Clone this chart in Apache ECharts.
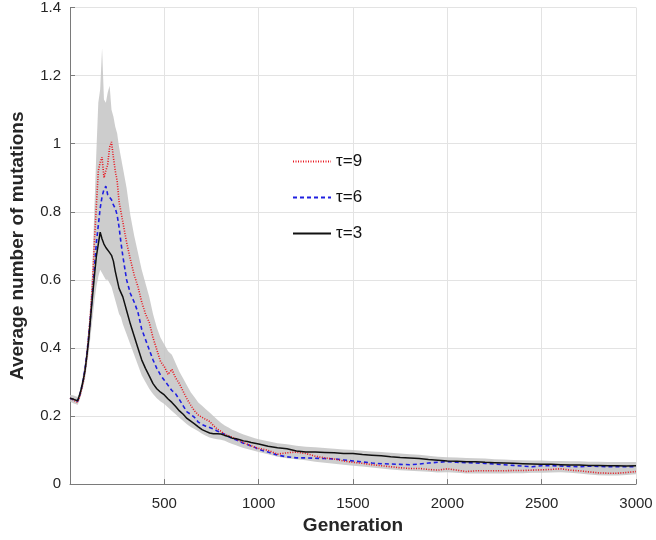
<!DOCTYPE html>
<html>
<head>
<meta charset="utf-8">
<script src="https://cdn.jsdelivr.net/npm/echarts@6/dist/echarts.min.js"></script>
<style>html,body{margin:0;padding:0;background:#fff;}#c{width:656px;height:540px;}</style>
</head>
<body>
<div id="c"></div>
<script>
var gens = [0,10,20,30,40,50,60,70,80,90,100,110,120,130,140,150,160,170,180,190,200,210,220,230,240,250,260,270,280,290,300,
320,340,360,380,400,420,440,460,480,500,520,540,560,580,600,620,640,660,680,700,720,740,760,780,800,820,840,860,880,900,920,940,960,980,1000,
1050,1100,1150,1200,1250,1300,1350,1400,1450,1500,1550,1600,1650,1700,1750,1800,1850,1900,1950,2000,2050,2100,2150,2200,2250,2300,2350,2400,2450,2500,2550,2600,2650,2700,2750,2800,2850,2900,2950,3000];

var tau3 = [0.252,0.25,0.249,0.247,0.245,0.26,0.28,0.305,0.335,0.38,0.43,0.495,0.555,0.615,0.67,0.705,0.74,0.72,0.705,0.695,0.69,0.68,0.672,0.655,0.625,0.6,0.575,0.58,0.55,0.53,0.51,
0.47,0.435,0.4,0.365,0.34,0.318,0.295,0.28,0.27,0.262,0.25,0.24,0.228,0.215,0.205,0.193,0.185,0.177,0.168,0.16,0.155,0.15,0.148,0.148,0.147,0.143,0.14,0.135,0.133,0.13,0.127,0.125,0.122,0.12,0.118,
0.111,0.107,0.104,0.097,0.094,0.094,0.093,0.092,0.09,0.09,0.087,0.085,0.083,0.08,0.078,0.077,0.075,0.072,0.07,0.068,0.067,0.066,0.066,0.064,0.063,0.062,0.061,0.06,0.059,0.058,0.058,0.057,0.056,0.056,0.055,0.055,0.054,0.054,0.053,0.054];

var tau6 = [0.252,0.25,0.248,0.246,0.243,0.258,0.28,0.305,0.34,0.385,0.44,0.5,0.57,0.64,0.71,0.76,0.81,0.845,0.865,0.875,0.85,0.845,0.835,0.82,0.81,0.79,0.755,0.71,0.67,0.635,0.6,
0.56,0.535,0.505,0.455,0.425,0.395,0.365,0.34,0.32,0.305,0.29,0.275,0.265,0.248,0.23,0.212,0.205,0.196,0.182,0.175,0.17,0.166,0.162,0.156,0.152,0.146,0.14,0.134,0.13,0.125,0.12,0.116,0.112,0.108,0.102,
0.094,0.085,0.08,0.077,0.077,0.076,0.075,0.074,0.071,0.068,0.065,0.062,0.06,0.059,0.058,0.057,0.059,0.062,0.064,0.066,0.064,0.063,0.062,0.061,0.059,0.057,0.055,0.053,0.051,0.054,0.054,0.053,0.052,0.051,0.053,0.052,0.051,0.051,0.051,0.051];

var tau9 = [0.252,0.25,0.247,0.245,0.24,0.255,0.275,0.3,0.335,0.38,0.44,0.51,0.6,0.72,0.82,0.92,0.945,0.96,0.9,0.92,0.94,0.99,1.005,0.96,0.92,0.89,0.83,0.8,0.77,0.74,0.71,
0.66,0.615,0.58,0.535,0.5,0.475,0.43,0.395,0.36,0.345,0.322,0.337,0.312,0.295,0.272,0.25,0.232,0.215,0.203,0.196,0.19,0.184,0.172,0.162,0.155,0.146,0.142,0.137,0.133,0.127,0.122,0.117,0.113,0.108,0.105,
0.099,0.088,0.092,0.094,0.09,0.082,0.077,0.074,0.068,0.064,0.061,0.057,0.054,0.051,0.048,0.046,0.046,0.043,0.041,0.045,0.041,0.037,0.039,0.039,0.039,0.039,0.04,0.04,0.041,0.042,0.043,0.045,0.041,0.039,0.036,0.033,0.032,0.032,0.034,0.037];

var bandUpper = [0.262,0.262,0.26,0.258,0.256,0.27,0.295,0.325,0.36,0.41,0.47,0.55,0.66,0.82,0.98,1.12,1.16,1.28,1.13,1.12,1.15,1.17,1.1,1.08,1.05,1.03,0.99,0.96,0.93,0.9,0.87,
0.79,0.73,0.68,0.63,0.59,0.55,0.5,0.46,0.43,0.41,0.39,0.38,0.355,0.33,0.31,0.29,0.27,0.255,0.24,0.23,0.22,0.21,0.2,0.19,0.18,0.172,0.166,0.16,0.155,0.15,0.146,0.142,0.138,0.135,0.132,
0.126,0.12,0.117,0.113,0.11,0.108,0.106,0.104,0.102,0.1,0.098,0.096,0.094,0.092,0.09,0.088,0.086,0.083,0.08,0.079,0.078,0.077,0.076,0.075,0.073,0.072,0.071,0.07,0.069,0.069,0.068,0.068,0.067,0.067,0.066,0.066,0.065,0.065,0.065,0.065];

var bandLower = [0.242,0.24,0.237,0.235,0.232,0.245,0.265,0.285,0.31,0.35,0.39,0.44,0.49,0.54,0.58,0.61,0.63,0.62,0.61,0.6,0.6,0.59,0.58,0.56,0.54,0.52,0.5,0.49,0.47,0.455,0.44,
0.41,0.38,0.35,0.32,0.3,0.28,0.265,0.252,0.243,0.235,0.225,0.215,0.205,0.195,0.185,0.176,0.168,0.162,0.155,0.148,0.142,0.137,0.134,0.132,0.13,0.127,0.122,0.118,0.114,0.11,0.106,0.103,0.1,0.097,0.094,
0.088,0.08,0.076,0.073,0.07,0.066,0.063,0.06,0.057,0.054,0.052,0.049,0.046,0.043,0.041,0.039,0.038,0.036,0.034,0.035,0.033,0.031,0.031,0.031,0.031,0.031,0.032,0.032,0.033,0.033,0.034,0.035,0.033,0.031,0.028,0.026,0.025,0.025,0.027,0.029];

var seriesNames = ['\u03c4=9', '\u03c4=6', '\u03c4=3'];
var xTicks = [500, 1000, 1500, 2000, 2500, 3000];
var yTicks = [0, 0.2, 0.4, 0.6, 0.8, 1, 1.2, 1.4];

function pairs(ys) { return gens.map(function (g, i) { return [g, ys[i]]; }); }

var chart = echarts.init(document.getElementById('c'), null, { renderer: 'canvas' });
var font = 'Liberation Sans, Arial, Helvetica, sans-serif';
var axisCol = '#7a7a7a';
chart.setOption({
  animation: false,
  backgroundColor: '#fff',
  grid: { left: 70, right: 20, top: 7, bottom: 54, containLabel: false },
  legend: {
    orient: 'vertical', left: 287, top: 148,
    itemWidth: 38, itemHeight: 16, itemGap: 19,
    data: seriesNames,
    itemStyle: { opacity: 0 },
    textStyle: { fontFamily: font, fontSize: 17, color: '#111' }
  },
  xAxis: {
    type: 'value', min: 0, max: 3000, interval: 500,
    name: 'Generation', nameLocation: 'middle', nameGap: 31,
    nameTextStyle: { fontFamily: font, fontSize: 19, fontWeight: 'bold', color: '#262626' },
    axisLine: { show: true, lineStyle: { color: axisCol, width: 1 } },
    axisTick: { show: true, inside: true, length: 5, lineStyle: { color: axisCol } },
    axisLabel: { fontFamily: font, fontSize: 15, color: '#262626', margin: 12,
      formatter: function (v) { return xTicks.indexOf(v) >= 0 ? String(v) : ''; } },
    splitLine: { show: true, lineStyle: { color: '#e3e3e3', width: 1 } }
  },
  yAxis: {
    type: 'value', min: 0, max: 1.4, interval: 0.2,
    name: 'Average number of mutations', nameLocation: 'middle', nameGap: 43,
    nameTextStyle: { fontFamily: font, fontSize: 19, fontWeight: 'bold', color: '#262626' },
    axisLine: { show: true, lineStyle: { color: axisCol, width: 1 } },
    axisTick: { show: true, inside: true, length: 5, lineStyle: { color: axisCol } },
    axisLabel: { fontFamily: font, fontSize: 15, color: '#262626', margin: 9,
      formatter: function (v) { var r = Math.round(v * 10) / 10; return yTicks.indexOf(r) >= 0 ? String(r) : ''; } },
    splitLine: { show: true, lineStyle: { color: '#e3e3e3', width: 1 } }
  },
  series: [
    { name: 'band', type: 'custom', silent: true, z: 1,
      data: [[0, 0]],
      renderItem: function (params, api) {
        var pts = [];
        for (var i = 0; i < gens.length; i++) pts.push(api.coord([gens[i], bandUpper[i]]));
        for (var j = gens.length - 1; j >= 0; j--) pts.push(api.coord([gens[j], bandLower[j]]));
        return { type: 'polygon', shape: { points: pts },
          style: { fill: '#c4c4c4', opacity: 0.85, stroke: 'none' } };
      } },
    { name: seriesNames[0], type: 'line', data: pairs(tau9), symbol: 'none', z: 4,
      lineStyle: { color: '#e8141c', width: 1.6, type: [1, 1.5] }, itemStyle: { color: '#e8141c' } },
    { name: seriesNames[1], type: 'line', data: pairs(tau6), symbol: 'none', z: 3,
      lineStyle: { color: '#1f1fe0', width: 1.6, type: [4, 3] }, itemStyle: { color: '#1f1fe0' } },
    { name: seriesNames[2], type: 'line', data: pairs(tau3), symbol: 'none', z: 5,
      lineStyle: { color: '#111', width: 1.5, type: 'solid' }, itemStyle: { color: '#111' } }
  ]
});
</script>
</body>
</html>
